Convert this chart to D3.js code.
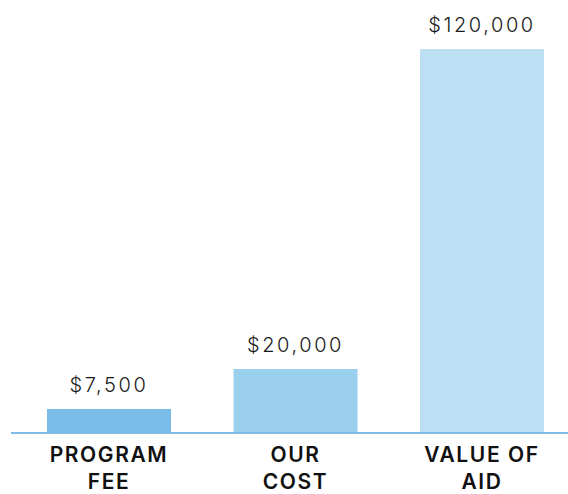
<!DOCTYPE html>
<html>
<head>
<meta charset="utf-8">
<script src="https://cdn.jsdelivr.net/npm/d3@7"></script>
<style>
  html, body { margin: 0; padding: 0; background: #fff; }
  svg { display: block; }
</style>
</head>
<body>
<svg id="chart"></svg>
<script>
(() => {
    const width = 568, height = 494;

    // data
    const categories = ["PROGRAM FEE", "OUR COST", "VALUE OF AID"];
    const catLines = [["PROGRAM", "FEE"], ["OUR", "COST"], ["VALUE OF", "AID"]];
    const values = [7500, 20000, 120000];
    const valueLabels = ["$7,500", "$20,000", "$120,000"];
    const barColors = ["#7abde8", "#9bcfee", "#bcdff4"];

    const baseY = 433;

    const svg = d3.select("#chart")
        .attr("width", width)
        .attr("height", height);

    const x = d3.scaleBand()
        .domain(categories)
        .range([15.75, 575.25])
        .paddingInner(0.335)
        .paddingOuter(0.1675);

    const y = d3.scaleLinear()
        .domain([0, 120000])
        .range([baseY, 49]);

    const data = categories.map((c, i) => ({
        cat: c, value: values[i], label: valueLabels[i], color: barColors[i], lines: catLines[i]
    }));

    svg.selectAll("rect.bar")
        .data(data)
        .join("rect")
        .attr("class", "bar")
        .attr("x", d => x(d.cat))
        .attr("width", x.bandwidth())
        .attr("y", d => y(d.value))
        .attr("height", d => baseY - y(d.value))
        .attr("fill", d => d.color);

    // baseline
    svg.append("line")
        .attr("x1", 11)
        .attr("x2", width)
        .attr("y1", baseY)
        .attr("y2", baseY)
        .attr("stroke", "#7fbde8")
        .attr("stroke-width", 2);

    svg.selectAll("text.val")
        .data(data)
        .join("text")
        .attr("class", "val")
        .attr("x", d => x(d.cat) + x.bandwidth() / 2)
        .attr("y", d => y(d.value) - 17)
        .attr("text-anchor", "middle")
        .attr("font-family", "Inter, 'Open Sans', sans-serif")
        .attr("font-weight", 300)
        .attr("font-size", 20)
        .attr("letter-spacing", 2.6)
        .attr("fill", "#1a1a1a")
        .text(d => d.label);

    const catText = svg.selectAll("text.cat")
        .data(data)
        .join("text")
        .attr("class", "cat")
        .attr("text-anchor", "middle")
        .attr("font-family", "Inter, 'Open Sans', sans-serif")
        .attr("font-weight", 600)
        .attr("font-size", 21)
        .attr("letter-spacing", 1.6)
        .attr("fill", "#111");

    catText.selectAll("tspan")
        .data(d => d.lines.map((l, i) => ({ l, i, cx: x(d.cat) + x.bandwidth() / 2 })))
        .join("tspan")
        .attr("x", d => d.cx)
        .attr("y", d => 462 + d.i * 27)
        .text(d => d.l);
})();
</script>
</body>
</html>
